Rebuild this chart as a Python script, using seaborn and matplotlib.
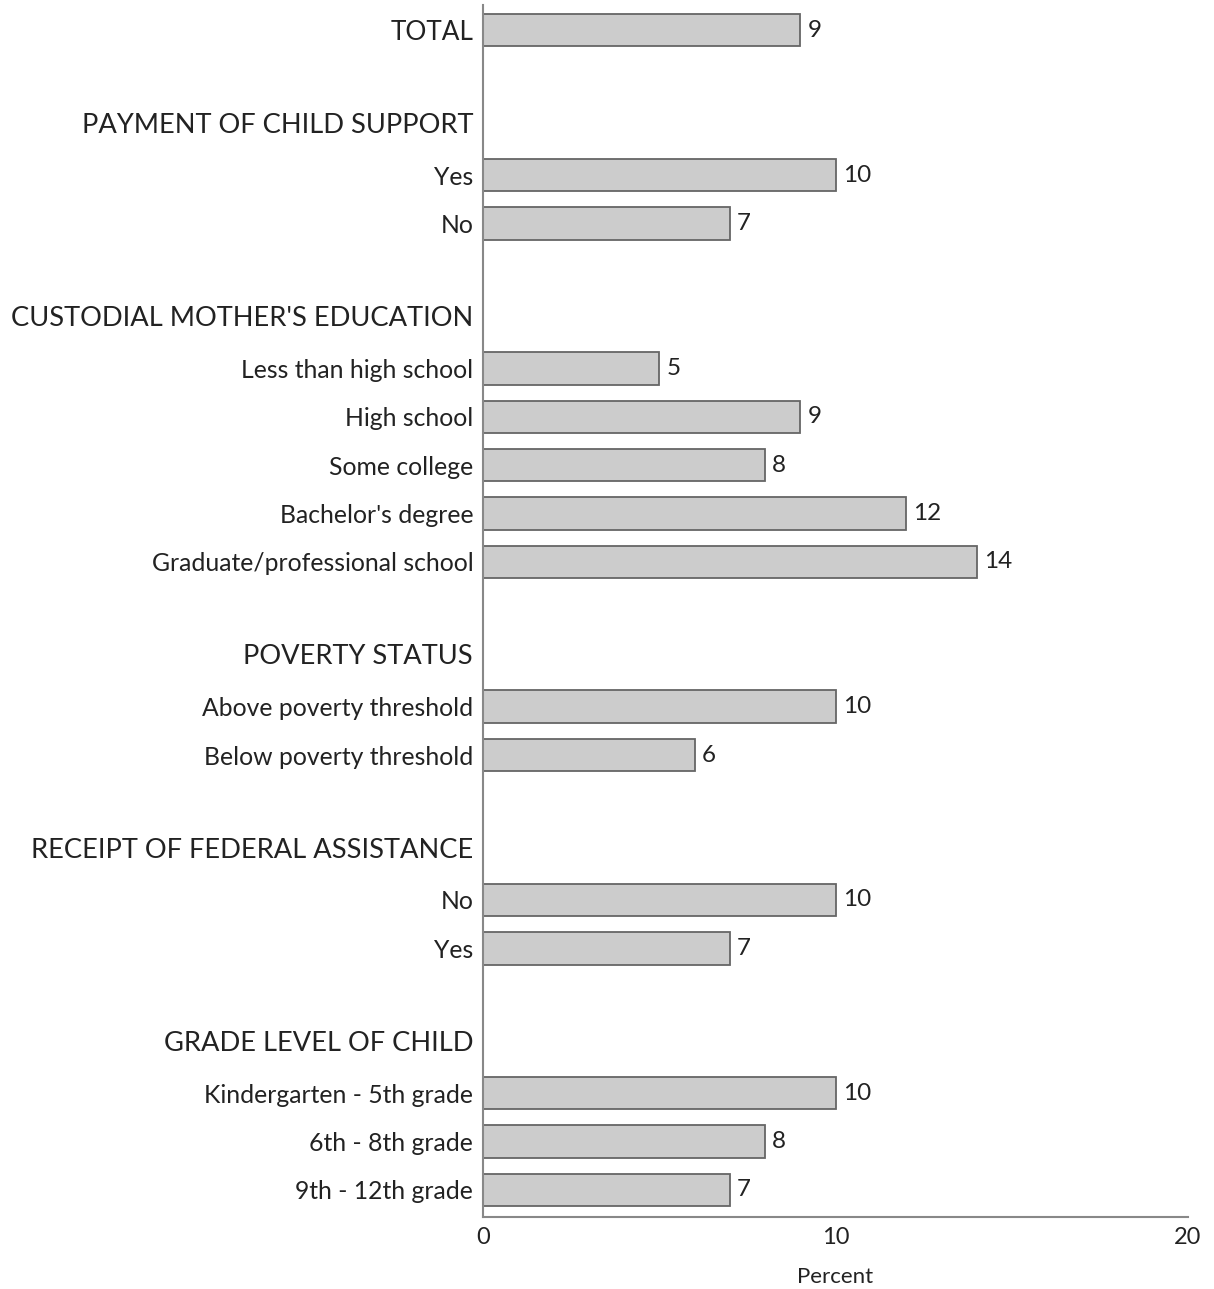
import numpy as np
import pandas as pd
import matplotlib
matplotlib.use("Agg")
import matplotlib.pyplot as plt
import seaborn as sns

# rows top to bottom; headers have no value
labels = ["TOTAL", "",
          "PAYMENT OF CHILD SUPPORT", "Yes", "No", "",
          "CUSTODIAL MOTHER'S EDUCATION", "Less than high school", "High school",
          "Some college", "Bachelor's degree", "Graduate/professional school", "",
          "POVERTY STATUS", "Above poverty threshold", "Below poverty threshold", "",
          "RECEIPT OF FEDERAL ASSISTANCE", "No", "Yes", "",
          "GRADE LEVEL OF CHILD", "Kindergarten - 5th grade", "6th - 8th grade", "9th - 12th grade"]
values = [9, np.nan,
          np.nan, 10, 7, np.nan,
          np.nan, 5, 9, 8, 12, 14, np.nan,
          np.nan, 10, 6, np.nan,
          np.nan, 10, 7, np.nan,
          np.nan, 10, 8, 7]
headers = ["TOTAL", "PAYMENT OF CHILD SUPPORT", "CUSTODIAL MOTHER'S EDUCATION", "POVERTY STATUS",
           "RECEIPT OF FEDERAL ASSISTANCE", "GRADE LEVEL OF CHILD"]

df = pd.DataFrame({"row": [f"r{i}" for i in range(len(labels))],
                   "label": labels, "value": values})

sns.set_style("white")
plt.rcParams["font.family"] = ["Lato", "DejaVu Sans"]

fig = plt.figure(figsize=(12.14, 12.89), dpi=100)
ax = fig.add_axes([483 / 1214, 72 / 1289, (1188 - 483) / 1214, 1212 / 1289])

sns.barplot(data=df, y="row", x="value", order=df["row"], orient="h",
            color="#cccccc", edgecolor="#666666", linewidth=1.3, width=0.67, ax=ax)

for i, (lab, v) in enumerate(zip(df["label"], df["value"])):
    if not np.isnan(v):
        ax.text(v + 0.2, i, f"{v:g}", va="center", ha="left", fontsize=17.5, color="#222222")

# regular row labels as tick labels, section headers as separate text
ax.set_yticks(range(len(labels)))
ax.set_yticklabels([lab if lab not in headers else "" for lab in labels],
                   fontsize=17.8, color="#222222")
ax.tick_params(axis="y", length=0, pad=7)
for i, lab in enumerate(labels):
    if lab in headers:
        dy = 0.04 if lab == "TOTAL" else -0.03
        fs = 18.8 if lab == "TOTAL" else 19.6
        ax.text(-10 / 705, i + dy, lab, transform=ax.get_yaxis_transform(),
                ha="right", va="center", fontsize=fs, color="#222222")

ax.set_xlim(0, 20)
ax.set_ylim(24.56, -0.52)
ax.set_xticks([0, 10, 20])
ax.tick_params(axis="x", direction="in", length=4, color="#888888", labelsize=17,
               labelcolor="#222222", pad=7)
ax.set_xlabel("Percent", fontsize=16, color="#222222", labelpad=14)
ax.set_ylabel("")

sns.despine(ax=ax, top=True, right=True)
for s in ["left", "bottom"]:
    ax.spines[s].set_color("#888888")
    ax.spines[s].set_linewidth(1.5)

fig.savefig("out.png", dpi=100)
